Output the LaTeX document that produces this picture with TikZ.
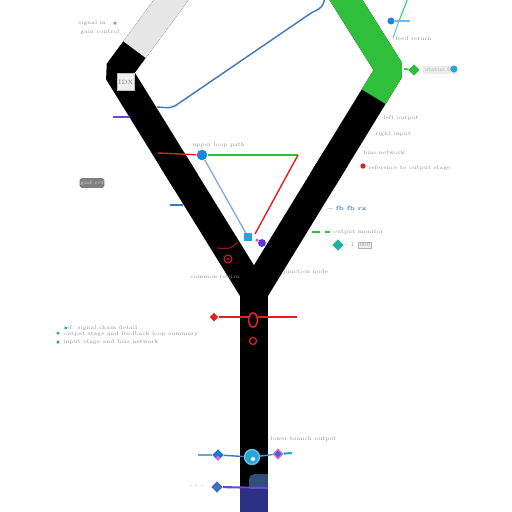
\documentclass[tikz,border=0pt]{standalone}
\usetikzlibrary{calc,shapes.geometric}
\definecolor{bandgray}{HTML}{E6E6E6}
\definecolor{bandgreen}{HTML}{2FBF3A}
\definecolor{blueline}{HTML}{3A78C2}
\definecolor{redline}{HTML}{E32020}
\definecolor{cyandot}{HTML}{2AA3DA}
\definecolor{violet}{HTML}{6B47D6}
\definecolor{navy}{HTML}{2B2F86}
\definecolor{slate}{HTML}{2F4F7A}
\definecolor{teal}{HTML}{22B3A0}
\definecolor{note}{HTML}{8A90A0}

\begin{document}
\begin{tikzpicture}[x=0.02cm, y=-0.02cm, line cap=butt,
  band/.style={line width=0.56cm},
  lbl/.style={font=\fontsize{3.1}{3.5}\selectfont, text=note, inner sep=0pt, anchor=west},
  dot/.style={circle, fill=#1, inner sep=0pt, minimum size=4pt},
  gem/.style={diamond, fill=#1, inner sep=0pt, minimum size=6.5pt},
  wire/.style={line width=0.8pt}]
\useasboundingbox (0,0) rectangle (512,512);
\fill[white] (0,0) rectangle (512,512);
\clip (0,0) rectangle (512,512);

\coordinate (LT) at (177,-8);
\coordinate (LB) at (118,72);
\coordinate (RT) at (341,-8);
\coordinate (RB) at (390,70);
\coordinate (J) at (254,292);
\coordinate (S) at (254,530);

% the Y
\draw[band, line join=bevel] (LT) -- (LB) -- ($(LB)!0.5!(J)$);
\draw[band, line join=bevel] (RT) -- (RB) -- ($(RB)!0.5!(J)$);
\draw[band, line join=miter] ($(LB)!0.4!(J)$) -- (J) -- (S);
\draw[band, line join=miter] ($(RB)!0.4!(J)$) -- (J) -- (S);
\draw[band, bandgray] (LT) -- ($(LT)!0.72!(LB)$);
\draw[band, bandgreen, line join=bevel] (RT) -- (RB) -- ($(RB)!0.12!(J)$);

% foot of the stem
\fill[navy] (240,489) rectangle (268,512);
\begin{scope}
  \clip (240,0) rectangle (268,512);
  \fill[slate, rounded corners=3pt] (249,474) rectangle (280,500);
  \fill[navy] (240,489) rectangle (268,512);
\end{scope}

% top left
\node[lbl] (t1) at (78,23) {signal in};
\node[dot=blueline!70, minimum size=2pt] (t1d) at (115,23) {};
\node[lbl] (t2) at (80,32) {gain control};
\node[draw=black!25, fill=black!6, minimum size=10pt, inner sep=0pt,
  font=\fontsize{3.5}{4}\selectfont, text=black!50] (idx) at (126,82) {IDX};
\draw[violet, line width=1.4pt] (113,117) -- (130,117);

\coordinate (b1) at (325,-2);
\coordinate (b2) at (322,8);
\coordinate (b3) at (314,11);
\coordinate (b4) at (172,108);
\coordinate (b5) at (157,107);
\draw[blueline, wire, rounded corners=3pt] (b1) -- (b2) -- (b3) -- (b4) -- (b5);

% top right
\coordinate (g1) at (408,-2);
\coordinate (g2) at (399,21);
\node[dot=cyandot!80!blue] (bd) at (391,21) {};
\coordinate (bd2) at (410,21);
\coordinate (bd3) at (393,38);
\draw[bandgreen!70!cyan, line width=0.6pt] (g1) -- (g2);
\draw[cyandot!70, line width=0.6pt] (bd) -- (bd2);
\draw[cyandot!70, line width=0.6pt] (g2) -- (bd3);
\node[lbl] (t4) at (395,39) {feed return};

\node[gem=bandgreen] (gd) at (414,70) {};
\draw[bandgreen, line width=1pt] (404,69) -- (gd);
\node[fill=black!8, inner sep=1pt, font=\fontsize{3.1}{3.5}\selectfont,
  text=black!35, anchor=west] (t5) at (423,70) {status 01};
\node[dot=cyandot] (bd4) at (454,69) {};

% right side labels
\node[lbl] (t6) at (383,118) {left output};
\node[lbl] (t7) at (375,134) {right input};
\node[lbl] (t8) at (363,153) {bias network};
\node[dot=redline, minimum size=3pt] (rd) at (363,166) {};
\node[lbl] (t9) at (368,168) {reference to output stage};
\node[lbl, text=blueline, font=\fontsize{3.4}{4}\selectfont\bfseries] (t10) at (328,208) {-- fb fb rx};
\draw[bandgreen, line width=0.8pt] (312,232) -- (320,232);
\draw[bandgreen, line width=0.8pt] (325,232) -- (330,232);
\node[lbl] (t11) at (333,232) {output monitor};
\node[gem=teal] (td) at (338,245) {};
\node[lbl] (t12) at (344,245) {-- 1};
\node[draw=black!30, fill=black!6, inner sep=0.6pt, font=\fontsize{3}{3.4}\selectfont,
  text=black!45] (t12b) at (365,245) {000};
\node[lbl] (t13) at (283,272) {junction node};

% left of the fork
\node[fill=black!50, rounded corners=1pt, minimum width=14pt, minimum height=5.5pt,
  inner sep=0pt, font=\fontsize{3.1}{3.5}\selectfont, text=white!85!black] (t15) at (92,183) {gnd ref};
\draw[blueline, line width=1.2pt] (170,205) -- (183,205);
\node[lbl] (t16) at (192,145) {upper loop path};
\node[lbl] (t14) at (190,277) {common return};

% the loop between the arms
\node[dot=cyandot!80!blue, minimum size=6pt] (bc) at (202,155) {};
\coordinate (rs) at (158,153);
\coordinate (gc) at (298,155);
\node[fill=cyandot, inner sep=0pt, minimum size=4pt] (cq) at (248,237) {};
\node[dot=violet!80!blue, minimum size=4.5pt] (vd) at (262,243) {};
\node[dot=magenta!70, minimum size=2pt] (pk) at (257,240) {};
\draw[redline, wire] (rs) -- (bc);
\draw[bandgreen, wire] (bc) -- (gc);
\draw[redline, wire] (gc) -- (255,234);
\draw[blueline!60, wire] (bc) -- (cq);
\draw[redline!70!black, line width=0.6pt] (217,248) .. controls (230,249) .. (238,242);
\node[circle, draw=redline, line width=0.6pt, inner sep=0pt, minimum size=4.5pt] (rc) at (228,259) {};
\fill[redline] (rc) circle (0.7pt);

% red line on the stem
\node[gem=redline, minimum size=5pt] (rdia) at (214,317) {};
\coordinate (re) at (297,317);
\draw[redline, wire] (rdia) -- (re);
\node[ellipse, draw=redline, line width=0.9pt, fill=black, minimum width=5pt,
  minimum height=8pt, inner sep=0pt] (ro) at (253,320) {};
\node[circle, draw=redline, line width=0.7pt, fill=black, inner sep=0pt, minimum size=4pt] (rs2) at (253,341) {};

% notes on the left
\node[lbl] (n1) at (63,328) {ref: signal chain detail};
\node[fill=cyandot, inner sep=0pt, minimum size=1.6pt] (n1d) at (66,328) {};
\node[lbl] (n2) at (63,334) {output stage and feedback loop summary};
\node[dot=cyandot, minimum size=2pt] (n2d) at (58,333) {};
\node[lbl] (n3) at (63,342) {input stage and bias network};
\node[dot=cyandot, minimum size=2pt] (n3d) at (58,342) {};

% lower branch
\node[lbl] (t18) at (270,439) {lower branch output};
\coordinate (w1) at (198,455);
\node[gem=cyandot!70!blue] (d1) at (218,455) {};
\node[circle, draw=cyandot!70, line width=0.8pt, fill=cyandot, inner sep=0pt, minimum size=8.5pt] (cr) at (252,457) {};
\fill[white] ($(cr)+(1,2)$) circle (1.2pt);
\node[gem=magenta!60] (d2) at (278,454) {};
\coordinate (w2) at (292,453);
\draw[blueline!70, wire] (w1) -- (d1);
\draw[blueline, wire] (d1) -- (cr);
\draw[cyandot, wire] (cr) -- (d2);
\draw[cyandot, line width=1.2pt] (d2) -- (w2);
\node[gem=cyandot!70!blue, minimum size=4pt] at (d2) {};
\node[gem=magenta!60, minimum size=3pt] at ($(d1)+(0,3)$) {};

\node[lbl] (t19) at (190,487) {- - --};
\node[gem=blueline!80!violet] (d3) at (217,487) {};
\coordinate (w3) at (268,488);
\draw[violet, line width=1.2pt] (d3) -- (w3);
\end{tikzpicture}
\end{document}
